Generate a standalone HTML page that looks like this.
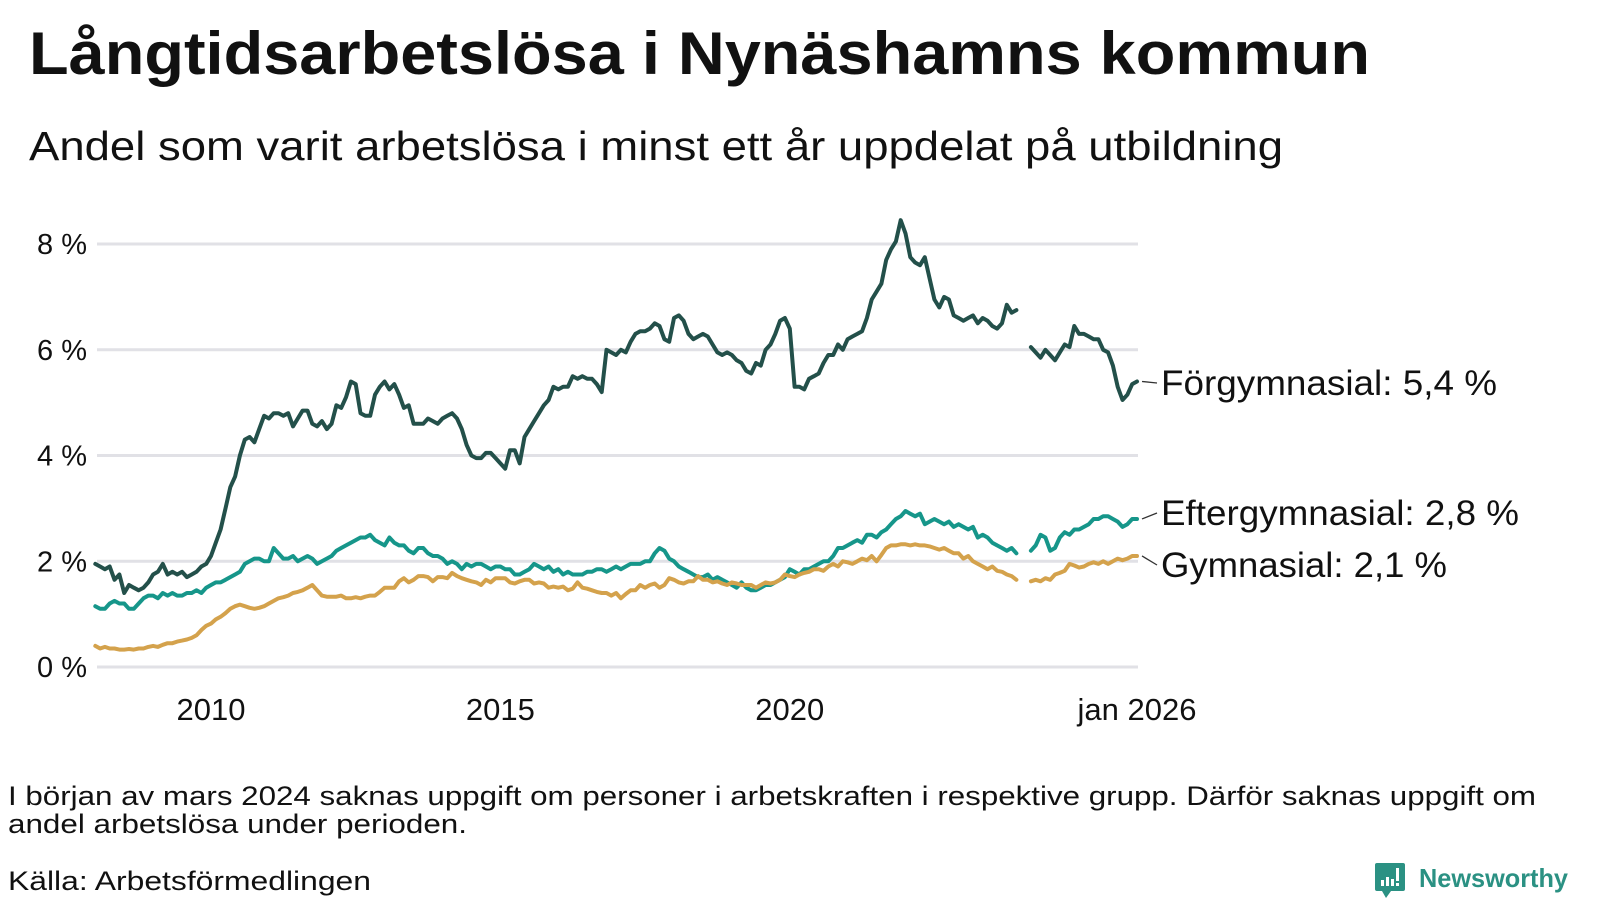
<!DOCTYPE html>
<html><head><meta charset="utf-8"><style>
html,body{margin:0;padding:0;background:#fff}
svg{display:block}
text{font-family:"Liberation Sans",sans-serif;fill:#111}
</style></head><body>
<svg id="chart" width="1600" height="900" viewBox="0 0 1600 900">
<text x="29" y="74" font-size="60" font-weight="bold" textLength="1341" lengthAdjust="spacingAndGlyphs">Långtidsarbetslösa i Nynäshamns kommun</text>
<text x="29" y="160" font-size="41" textLength="1254" lengthAdjust="spacingAndGlyphs">Andel som varit arbetslösa i minst ett år uppdelat på utbildning</text>
<g id="grid"></g>
<g id="yticks"></g>
<g id="xticks"></g>
<g id="lines"></g>
<g id="labels"></g>
<text x="8" y="805" font-size="27" textLength="1528" lengthAdjust="spacingAndGlyphs">I början av mars 2024 saknas uppgift om personer i arbetskraften i respektive grupp. Därför saknas uppgift om</text>
<text x="8" y="833" font-size="27" textLength="459" lengthAdjust="spacingAndGlyphs">andel arbetslösa under perioden.</text>
<text x="8" y="890" font-size="27" textLength="363" lengthAdjust="spacingAndGlyphs">Källa: Arbetsförmedlingen</text>
<g>
<path d="M1377 863 h26 a2 2 0 0 1 2 2 v24 a2 2 0 0 1 -2 2 h-12 l-5 7 l-4 -7 h-5 a2 2 0 0 1 -2 -2 v-24 a2 2 0 0 1 2 -2z" fill="#2b9183"/>
<rect x="1381" y="880" width="3" height="6" fill="#fff"/>
<rect x="1386" y="877" width="3" height="9" fill="#fff"/>
<rect x="1391" y="879" width="3" height="7" fill="#fff"/>
<rect x="1396" y="868" width="3" height="13" fill="#fff"/>
<rect x="1396" y="883" width="3" height="3" fill="#fff"/>
<text x="1419" y="887" font-size="26" font-weight="bold" style="fill:#2b9183" textLength="149" lengthAdjust="spacingAndGlyphs">Newsworthy</text>
</g>
</svg>
<script>
const yTicks = [0, 2, 4, 6, 8];
const yTickLabels = ["0 %", "2 %", "4 %", "6 %", "8 %"];
const xTicks = [2010, 2015, 2020, 2026];
const xTickLabels = ["2010", "2015", "2020", "jan 2026"];
const startYear = 2008;
const seriesNames = ["Förgymnasial", "Eftergymnasial", "Gymnasial"];
const seriesLabels = ["Förgymnasial: 5,4 %", "Eftergymnasial: 2,8 %", "Gymnasial: 2,1 %"];
const forgymnasial = [
1.95,1.9,1.85,1.9,1.65,1.75,1.4,1.55,1.5,1.45,1.5,1.6,
1.75,1.8,1.95,1.75,1.8,1.75,1.8,1.7,1.75,1.8,1.9,1.95,
2.1,2.35,2.6,3.0,3.4,3.6,4.0,4.3,4.35,4.25,4.5,4.75,
4.7,4.8,4.8,4.75,4.8,4.55,4.7,4.85,4.85,4.6,4.55,4.65,
4.5,4.6,4.95,4.9,5.1,5.4,5.35,4.8,4.75,4.75,5.15,5.3,
5.4,5.25,5.35,5.15,4.9,4.95,4.6,4.6,4.6,4.7,4.65,4.6,
4.7,4.75,4.8,4.7,4.5,4.2,4.0,3.95,3.95,4.05,4.05,3.95,
3.85,3.75,4.1,4.1,3.85,4.35,4.5,4.65,4.8,4.95,5.05,5.3,
5.25,5.3,5.3,5.5,5.45,5.5,5.45,5.45,5.35,5.2,6.0,5.95,
5.9,6.0,5.95,6.15,6.3,6.35,6.35,6.4,6.5,6.45,6.2,6.15,
6.6,6.65,6.55,6.3,6.2,6.25,6.3,6.25,6.1,5.95,5.9,5.95,
5.9,5.8,5.75,5.6,5.55,5.75,5.7,6.0,6.1,6.3,6.55,6.6,
6.4,5.3,5.3,5.25,5.45,5.5,5.55,5.75,5.9,5.9,6.1,6.0,
6.2,6.25,6.3,6.35,6.6,6.95,7.1,7.25,7.7,7.9,8.05,8.45,
8.2,7.75,7.65,7.6,7.75,7.35,6.95,6.8,7.0,6.95,6.65,6.6,
6.55,6.6,6.65,6.5,6.6,6.55,6.45,6.4,6.5,6.85,6.7,6.75,
null,null,6.05,5.95,5.85,6.0,5.9,5.8,5.95,6.1,6.05,6.45,
6.3,6.3,6.25,6.2,6.2,6.0,5.95,5.7,5.3,5.05,5.15,5.35,
5.4];
const eftergymnasial = [
1.15,1.1,1.1,1.2,1.25,1.2,1.2,1.1,1.1,1.2,1.3,1.35,
1.35,1.3,1.4,1.35,1.4,1.35,1.35,1.4,1.4,1.45,1.4,1.5,
1.55,1.6,1.6,1.65,1.7,1.75,1.8,1.95,2.0,2.05,2.05,2.0,
2.0,2.25,2.15,2.05,2.05,2.1,2.0,2.05,2.1,2.05,1.95,2.0,
2.05,2.1,2.2,2.25,2.3,2.35,2.4,2.45,2.45,2.5,2.4,2.35,
2.3,2.45,2.35,2.3,2.3,2.2,2.15,2.25,2.25,2.15,2.1,2.1,
2.05,1.95,2.0,1.95,1.85,1.95,1.9,1.95,1.95,1.9,1.85,1.9,
1.9,1.85,1.85,1.75,1.75,1.8,1.85,1.95,1.9,1.85,1.9,1.8,
1.85,1.75,1.8,1.75,1.75,1.75,1.8,1.8,1.85,1.85,1.8,1.85,
1.9,1.85,1.9,1.95,1.95,1.95,2.0,2.0,2.15,2.25,2.2,2.05,
2.0,1.9,1.85,1.8,1.75,1.7,1.7,1.75,1.65,1.7,1.65,1.6,
1.55,1.5,1.6,1.5,1.45,1.45,1.5,1.55,1.55,1.6,1.65,1.7,
1.85,1.8,1.75,1.85,1.85,1.9,1.95,2.0,2.0,2.1,2.25,2.25,
2.3,2.35,2.4,2.35,2.5,2.5,2.45,2.55,2.6,2.7,2.8,2.85,
2.95,2.9,2.85,2.9,2.7,2.75,2.8,2.75,2.7,2.75,2.65,2.7,
2.65,2.6,2.65,2.45,2.5,2.45,2.35,2.3,2.25,2.2,2.25,2.15,
null,null,2.2,2.3,2.5,2.45,2.2,2.25,2.45,2.55,2.5,2.6,
2.6,2.65,2.7,2.8,2.8,2.85,2.85,2.8,2.75,2.65,2.7,2.8,
2.8];
const gymnasial = [
0.4,0.35,0.38,0.35,0.35,0.33,0.33,0.34,0.33,0.35,0.35,0.38,
0.4,0.38,0.42,0.45,0.45,0.48,0.5,0.52,0.55,0.6,0.7,0.78,
0.82,0.9,0.95,1.02,1.1,1.15,1.18,1.15,1.12,1.1,1.12,1.15,
1.2,1.25,1.3,1.32,1.35,1.4,1.42,1.45,1.5,1.55,1.45,1.35,
1.33,1.33,1.33,1.35,1.3,1.3,1.32,1.3,1.33,1.35,1.35,1.42,
1.5,1.5,1.5,1.62,1.68,1.6,1.65,1.72,1.72,1.7,1.62,1.7,
1.7,1.68,1.78,1.72,1.68,1.65,1.62,1.6,1.55,1.65,1.6,1.68,
1.68,1.68,1.6,1.58,1.62,1.65,1.65,1.58,1.6,1.58,1.5,1.52,
1.5,1.52,1.45,1.48,1.6,1.5,1.48,1.45,1.42,1.4,1.4,1.35,
1.4,1.3,1.38,1.45,1.45,1.55,1.5,1.55,1.58,1.5,1.55,1.68,
1.65,1.6,1.58,1.62,1.62,1.72,1.65,1.65,1.6,1.62,1.58,1.55,
1.6,1.58,1.55,1.55,1.55,1.5,1.55,1.6,1.58,1.6,1.65,1.75,
1.72,1.7,1.75,1.78,1.8,1.85,1.85,1.82,1.9,1.95,1.9,2.0,
1.98,1.95,2.0,2.05,2.02,2.1,2.0,2.12,2.25,2.3,2.3,2.32,
2.32,2.3,2.32,2.3,2.3,2.28,2.25,2.22,2.25,2.2,2.15,2.15,
2.05,2.1,2.0,1.95,1.9,1.85,1.9,1.82,1.8,1.75,1.72,1.65,
null,null,1.62,1.65,1.62,1.68,1.65,1.75,1.78,1.82,1.95,1.92,
1.88,1.9,1.95,1.98,1.95,2.0,1.95,2.0,2.05,2.02,2.05,2.1,
2.1];

const NS = "http://www.w3.org/2000/svg";
const x0 = 97, x1 = 1138, yMin = 0, yMax = 8;
const xScale = t => 211 + (t - 2010) * 57.875;
const yScale = v => 667 - (v - yMin) * (667 - 244) / (yMax - yMin);
const colors = ["#23504a", "#16968a", "#d4a24c"];
const labelY = [383, 513, 565];
const labelW = [336, 358, 286];

function mk(tag, attrs, parent) {
  const el = document.createElementNS(NS, tag);
  for (const k in attrs) el.setAttribute(k, attrs[k]);
  parent.appendChild(el);
  return el;
}
const grid = document.getElementById('grid');
const yt = document.getElementById('yticks');
const xt = document.getElementById('xticks');
yTicks.forEach((v, i) => {
  const y = yScale(v);
  const l = mk('line', {x1: x0, x2: x1, y1: y, y2: y, stroke: '#e1e1e6', 'stroke-width': 3}, grid);
  
  
  const t = mk('text', {x: 87, y: y + 10, 'font-size': 29, 'text-anchor': 'end'}, yt);
  t.textContent = yTickLabels[i];
  
  
});
xTicks.forEach((v, i) => {
  const t = mk('text', {x: xScale(v), y: 720, 'font-size': 31, 'text-anchor': 'middle'}, xt);
  t.textContent = xTickLabels[i];
  
  
});
const lines = document.getElementById('lines');
const labels = document.getElementById('labels');
[forgymnasial, eftergymnasial, gymnasial].forEach((data, si) => {
  let d = '', pen = false, lastX = 0, lastY = 0;
  data.forEach((v, i) => {
    if (v === null) { pen = false; return; }
    const x = xScale(startYear + i / 12), y = yScale(v);
    d += (pen ? 'L' : 'M') + x.toFixed(1) + ' ' + y.toFixed(1);
    pen = true; lastX = x; lastY = y;
  });
  const p = mk('path', {d: d, fill: 'none', stroke: colors[si], 'stroke-width': 4, 'stroke-linejoin': 'round', 'stroke-linecap': 'round'}, lines);
  
  
  const ly = labelY[si];
  const ld = mk('line', {x1: lastX + 5, y1: lastY, x2: lastX + 20, y2: ly, stroke: '#333', 'stroke-width': 1.3}, labels);
  
  
  const t = mk('text', {x: lastX + 24, y: ly + 12, 'font-size': 35, textLength: labelW[si], lengthAdjust: 'spacingAndGlyphs'}, labels);
  t.textContent = seriesLabels[si];
  
  
});
</script>
</body></html>
